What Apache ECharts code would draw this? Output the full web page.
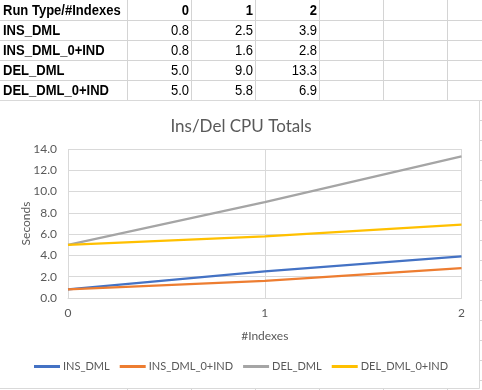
<!DOCTYPE html>
<html><head><meta charset="utf-8">
<script src="https://cdn.jsdelivr.net/npm/echarts@6/dist/echarts.min.js"></script>
<style>html,body{margin:0;padding:0;background:#fff}#c{width:482px;height:390px}</style>
</head><body><div id="c"></div>
<script>
const categories = ['0', '1', '2'];
const seriesNames = ['INS_DML', 'INS_DML_0+IND', 'DEL_DML', 'DEL_DML_0+IND'];
const insDml = [0.8, 2.5, 3.9];
const insDml0Ind = [0.8, 1.6, 2.8];
const delDml = [5.0, 9.0, 13.3];
const delDml0Ind = [5.0, 5.8, 6.9];
const headerLabel = 'Run Type/#Indexes';
const title = 'Ins/Del CPU Totals';
const yName = 'Seconds';
const xName = '#Indexes';

const values = [insDml, insDml0Ind, delDml, delDml0Ind];
const colors = ['#4472C4', '#ED7D31', '#A5A5A5', '#FFC000'];

const TF = '"Liberation Sans",Arial,sans-serif';
const CF = 'Lato,"Liberation Sans",Arial,sans-serif';
const graphics = [];
const colX = [127, 191, 255, 319, 383, 447];
const rowY = [20, 40, 60, 80, 100, 120, 140, 160, 180, 200, 220, 240, 260, 280, 300, 320, 340, 360, 380];
colX.forEach(x => graphics.push({type:'line', z:-3, shape:{x1:x+0.5,y1:0,x2:x+0.5,y2:390}, style:{stroke:'#D4D4D4', lineWidth:1}, silent:true}));
rowY.forEach(y => graphics.push({type:'line', z:-3, shape:{x1:0,y1:y+0.5,x2:482,y2:y+0.5}, style:{stroke:'#D4D4D4', lineWidth:1}, silent:true}));
const rows = [[headerLabel].concat(categories)].concat(seriesNames.map((n,i)=>[n].concat(values[i].map(v=>v.toFixed(1)))));
const rightEdges = [189, 253, 317];
rows.forEach((r, ri) => {
  const cy = 11 + ri * 20;
  graphics.push({type:'text', x:3, y:cy, scaleX:0.93, style:{text:r[0], font:'bold 14px '+TF, fill:'#000', align:'left', verticalAlign:'middle'}, silent:true});
  for (let k = 1; k < r.length; k++) {
    graphics.push({type:'text', x:rightEdges[k-1], y:cy, scaleX:0.93, style:{text:r[k], font:(ri===0?'bold ':'')+'14px '+TF, fill:'#000', align:'right', verticalAlign:'middle'}, silent:true});
  }
});
graphics.push({type:'rect', z:-2, shape:{x:-1, y:100.5, width:480.5, height:288}, style:{fill:'#fff', stroke:'#D9D9D9', lineWidth:1}, silent:true});
graphics.push({type:'line', shape:{x1:461.5,y1:149,x2:461.5,y2:298}, style:{stroke:'#D9D9D9'}, silent:true});

const option = {
  animation: false,
  backgroundColor: '#fff',
  title: {text: title, left: 'center', top: 113, textStyle:{fontFamily:CF, fontSize:17, fontWeight:'normal', color:'#595959'}},
  graphic: {elements: graphics},
  legend: {
    data: seriesNames, bottom: 13, left: 'center', itemWidth: 26, itemHeight: 3, itemGap: 10, icon: 'rect',
    textStyle: {fontFamily:CF, fontSize:11, color:'#595959', padding:[0,0,0,-2]}
  },
  grid: {left: 68, right: 20.5, top: 149, bottom: 92},
  xAxis: {
    type: 'category', data: categories, boundaryGap: false,
    name: xName, nameLocation: 'middle', nameGap: 32, nameMoveOverlap: false,
    nameTextStyle: {fontFamily:CF, fontSize:12, color:'#595959'},
    axisLine: {show: true, lineStyle: {color:'#D9D9D9'}},
    axisTick: {show: false},
    axisLabel: {margin: 9, fontFamily:CF, fontSize:12, color:'#595959'},
    splitLine: {show: true, lineStyle: {color:'#D9D9D9'}}
  },
  yAxis: {
    type: 'value', min: 0, max: 14, interval: 2,
    name: yName, nameLocation: 'middle', nameGap: 36, nameMoveOverlap: false,
    nameTextStyle: {fontFamily:CF, fontSize:12, color:'#595959'},
    axisLine: {show: false}, axisTick: {show: false},
    axisLabel: {margin: 11, fontFamily:CF, fontSize:12, color:'#595959', formatter: v => v.toFixed(1)},
    splitLine: {show: true, lineStyle: {color:'#D9D9D9'}}
  },
  series: seriesNames.map((n, i) => ({
    name: n, type: 'line', data: values[i], symbol: 'none',
    lineStyle: {width: 2.25, color: colors[i]}, itemStyle: {color: colors[i]}
  }))
};
echarts.init(document.getElementById('c')).setOption(option);
</script></body></html>
